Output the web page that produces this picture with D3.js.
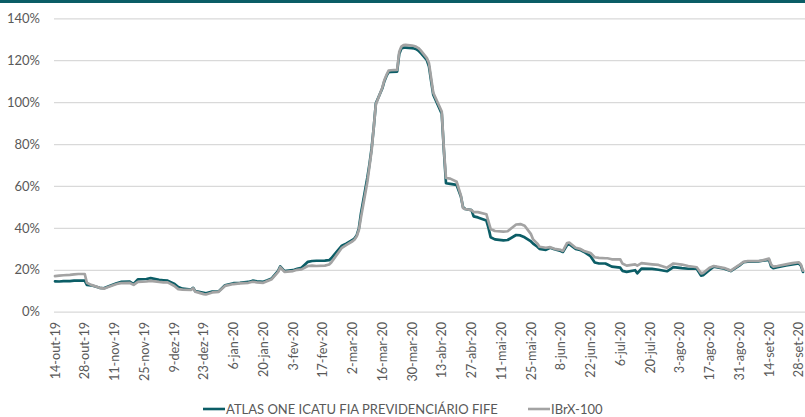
<!DOCTYPE html>
<html>
<head>
<meta charset="utf-8">
<script src="https://cdn.jsdelivr.net/npm/d3@7"></script>
<style>
  html, body { margin: 0; padding: 0; background: #fff; }
  svg { display: block; }
  text { font-family: Lato, "Open Sans", sans-serif; fill: #595959; }
</style>
</head>
<body>
<svg id="chart" width="805" height="417"></svg>
<script>
// ---------- DATA ----------
const dates = [
  "2019-10-14","2019-10-16","2019-10-18","2019-10-21","2019-10-23","2019-10-25","2019-10-28","2019-10-29","2019-10-31",
  "2019-11-04","2019-11-06","2019-11-08","2019-11-12","2019-11-14","2019-11-18","2019-11-20","2019-11-22","2019-11-26","2019-11-28",
  "2019-12-02","2019-12-04","2019-12-06","2019-12-09","2019-12-11","2019-12-13","2019-12-17","2019-12-18","2019-12-19","2019-12-23","2019-12-24","2019-12-27","2019-12-30",
  "2020-01-02","2020-01-06","2020-01-09","2020-01-13","2020-01-15","2020-01-17","2020-01-20","2020-01-22","2020-01-24","2020-01-27","2020-01-28","2020-01-30",
  "2020-02-03","2020-02-05","2020-02-07","2020-02-10","2020-02-12","2020-02-14","2020-02-18","2020-02-20","2020-02-21","2020-02-26","2020-02-28",
  "2020-03-02","2020-03-03","2020-03-04","2020-03-05","2020-03-06","2020-03-09","2020-03-10","2020-03-11","2020-03-12","2020-03-13",
  "2020-03-16","2020-03-17","2020-03-18","2020-03-19","2020-03-20","2020-03-23","2020-03-24","2020-03-25","2020-03-26","2020-03-27",
  "2020-03-30","2020-03-31","2020-04-01","2020-04-02","2020-04-03","2020-04-06","2020-04-07","2020-04-08","2020-04-09",
  "2020-04-13","2020-04-14","2020-04-15","2020-04-17","2020-04-20","2020-04-22","2020-04-23","2020-04-24","2020-04-27","2020-04-28","2020-04-30",
  "2020-05-04","2020-05-05","2020-05-06","2020-05-08","2020-05-12","2020-05-14","2020-05-18","2020-05-20","2020-05-22","2020-05-25","2020-05-26","2020-05-28","2020-05-29",
  "2020-06-01","2020-06-03","2020-06-05","2020-06-08","2020-06-09","2020-06-11","2020-06-12","2020-06-15","2020-06-17","2020-06-19","2020-06-22","2020-06-24","2020-06-26","2020-06-29","2020-06-30",
  "2020-07-02","2020-07-06","2020-07-07","2020-07-09","2020-07-13","2020-07-14","2020-07-16","2020-07-21","2020-07-24","2020-07-28","2020-07-31",
  "2020-08-04","2020-08-07","2020-08-11","2020-08-13","2020-08-14","2020-08-17","2020-08-19","2020-08-24","2020-08-27","2020-08-31",
  "2020-09-02","2020-09-04","2020-09-09","2020-09-11","2020-09-14","2020-09-15","2020-09-16","2020-09-18","2020-09-22","2020-09-25","2020-09-28","2020-09-29","2020-09-30"
];
const atlas = [
  14.5,14.4,14.6,14.6,14.8,14.8,14.8,12.8,12.6,
  11.4,11.2,12.0,13.6,14.2,14.4,13.2,15.4,15.6,16.0,
  15.2,15.0,14.8,13.4,11.8,11.0,10.6,11.4,9.8,9.0,8.8,9.6,9.7,
  12.6,13.6,13.8,14.2,14.8,14.5,14.3,15.0,15.9,19.5,21.6,19.4,
  19.8,20.5,21.0,23.8,24.2,24.3,24.4,24.6,25.5,31.5,32.5,
  34.2,35.0,36.5,39.8,47.0,64.0,70.5,78.0,88.0,99.5,
  106.5,110.0,112.5,114.3,114.4,114.6,123.0,125.6,126.0,126.0,
  125.8,125.6,125.3,124.6,123.6,120.0,117.0,110.0,103.5,
  94.5,77.0,61.3,61.0,60.5,55.0,50.0,49.0,48.5,45.5,45.0,
  43.5,40.0,35.5,34.5,34.0,34.2,36.6,36.4,35.5,33.5,32.5,31.0,30.0,
  29.5,30.5,29.8,29.0,28.5,31.8,32.2,30.0,29.5,28.5,26.5,23.5,23.0,23.0,22.5,
  21.5,21.0,19.5,19.0,19.8,18.3,20.6,20.4,20.0,19.3,21.3,
  20.8,20.5,20.5,17.2,17.4,19.9,21.5,20.5,19.4,22.0,
  23.6,23.9,24.0,24.3,24.7,21.5,20.8,21.2,22.1,22.6,23.0,22.0,19.0
];
const ibrx = [
  17.0,17.2,17.4,17.6,17.8,18.0,18.0,13.8,12.8,
  11.4,11.0,11.8,13.2,13.6,13.8,12.8,14.2,14.4,14.7,
  14.2,14.0,14.0,12.4,10.8,10.5,10.4,11.2,9.6,8.4,8.2,9.2,9.5,
  12.3,13.2,13.5,13.8,14.3,14.0,13.8,14.6,15.5,19.0,21.2,19.0,
  19.4,20.0,20.2,21.8,22.0,21.8,22.0,22.5,23.5,30.5,31.8,
  33.6,34.5,36.0,39.0,45.0,62.0,69.5,77.0,88.0,99.0,
  106.8,110.5,113.0,115.0,115.2,115.4,124.0,126.5,127.2,127.3,
  127.0,126.8,126.4,125.8,124.8,121.0,118.5,111.5,104.5,
  95.5,77.5,63.8,63.5,62.0,55.5,49.5,49.0,48.5,47.5,47.5,
  46.5,43.0,39.5,38.5,38.2,38.4,41.6,41.8,41.0,37.0,34.5,32.5,31.0,
  30.5,30.8,30.0,29.5,29.0,32.8,33.0,30.5,30.0,29.0,28.0,26.0,25.7,25.5,25.5,
  25.0,25.0,23.0,22.0,22.6,22.0,23.2,22.6,22.3,21.0,23.0,
  22.5,21.8,21.2,18.3,18.5,21.0,21.8,20.8,19.6,22.3,
  23.8,24.1,24.2,24.5,25.3,22.5,21.5,21.8,22.6,23.2,23.6,22.6,19.6
];
const yTicks = [0, 20, 40, 60, 80, 100, 120, 140];
const xTickLabels = [
  "14-out-19","28-out-19","11-nov-19","25-nov-19","9-dez-19","23-dez-19","6-jan-20","20-jan-20","3-fev-20",
  "17-fev-20","2-mar-20","16-mar-20","30-mar-20","13-abr-20","27-abr-20","11-mai-20","25-mai-20","8-jun-20",
  "22-jun-20","6-jul-20","20-jul-20","3-ago-20","17-ago-20","31-ago-20","14-set-20","28-set-20"
];
const seriesNames = ["ATLAS ONE ICATU FIA PREVIDENCIÁRIO FIFE", "IBrX-100"];
const seriesColors = ["#0b5d66", "#a3a3a3"];

// ---------- CHART ----------
const W = 805, H = 417;
const svg = d3.select("#chart");
const parse = d3.timeParse("%Y-%m-%d");
const monthIdx = {jan:0,fev:1,mar:2,abr:3,mai:4,jun:5,jul:6,ago:7,set:8,out:9,nov:10,dez:11};
const parseLabel = s => { const [d, m, y] = s.split("-"); return new Date(2000 + (+y), monthIdx[m], +d); };

const x = d3.scaleTime()
  .domain([parse("2019-10-14"), parse("2020-09-30")])
  .range([55, 803]);
const y = d3.scaleLinear().domain([0, 140]).range([311.7, 18.3]);

// top bar
svg.append("rect").attr("x", 0).attr("y", 0).attr("width", W).attr("height", 3).attr("fill", "#0b5d66");

// gridlines + y labels
const yAxis = d3.axisLeft(y).tickValues(yTicks).tickSize(-(W - 54)).tickFormat(d => d + "%");
const gy = svg.append("g").attr("transform", "translate(54,0)").call(yAxis);
gy.select(".domain").remove();
gy.selectAll(".tick line").attr("stroke", "#d9d9d9").attr("stroke-width", 1.3);
gy.selectAll(".tick text").attr("x", -14).attr("font-size", 13).attr("fill", "#595959")
  .style("font-family", "Lato, 'Open Sans', sans-serif");

// x labels
const xAxis = d3.axisBottom(x).tickValues(xTickLabels.map(parseLabel))
  .tickSize(0).tickFormat((d, i) => xTickLabels[i]);
const gx = svg.append("g").attr("transform", "translate(0,312)").call(xAxis);
gx.select(".domain").remove();
gx.selectAll(".tick text")
  .attr("transform", "rotate(-90)")
  .attr("x", -10).attr("y", 0).attr("dy", "0.32em")
  .attr("text-anchor", "end")
  .attr("font-size", 12.6).attr("fill", "#595959")
  .style("font-family", "Lato, 'Open Sans', sans-serif");

// lines
const seriesData = [atlas, ibrx];
const line = d3.line().x(d => x(d.date)).y(d => y(d.v));
seriesData.forEach((vals, k) => {
  const pts = dates.map((s, i) => ({date: parse(s), v: vals[i]}));
  svg.append("path").datum(pts)
    .attr("d", line)
    .attr("fill", "none")
    .attr("stroke", seriesColors[k])
    .attr("stroke-width", 2.7)
    .attr("stroke-linejoin", "round")
    .attr("stroke-linecap", "round");
});

// legend
const legendItems = [{x: 203, k: 0}, {x: 528, k: 1}];
legendItems.forEach(({x: lx, k}) => {
  const g = svg.append("g").attr("transform", `translate(${lx},409)`);
  g.append("line").attr("x1", 0).attr("x2", 22).attr("y1", 0).attr("y2", 0)
    .attr("stroke", seriesColors[k]).attr("stroke-width", 2.6);
  g.append("text").attr("x", 23).attr("y", 0).attr("dy", "0.35em")
    .attr("font-size", 13).attr("fill", "#595959").text(seriesNames[k]);
});
</script>
</body>
</html>
